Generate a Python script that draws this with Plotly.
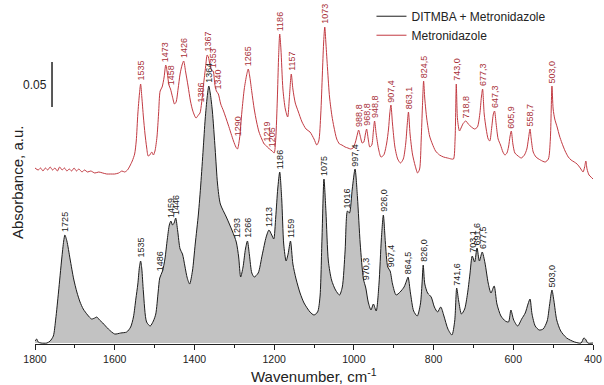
import numpy as np
import plotly.graph_objects as go

# ---------------- data ----------------
# wavenumber (cm-1) and absorbance in units of 1/900 a.u. (45 units = 0.05 a.u.)
black_wn = [1800,1796,1792,1785,1770,1762,1754,1748,1741,1733,
            1728,1725,1720,1712,1703,1695,1687,1679,1668,1658,
            1650,1645,1638,1630,1616,1600,1585,1570,1560,1553,
            1547,1542,1538,1535,1532,1528,1520,1511,1503,1497,
            1491,1487,1480,1474,1468,1463,1459,1455,1451,1447,
            1442,1436,1430,1424,1418,1412,1405,1398,1390,1384,
            1378,1373,1368,1364,1360,1355,1348,1342,1335,1320,
            1305,1295,1289,1284,1278,1272,1267,1262,1256,1250,
            1240,1230,1220,1213,1206,1201,1196,1191,1186,1181,
            1176,1170,1165,1159,1153,1145,1135,1125,1110,1100,
            1091,1085,1080,1075,1070,1064,1056,1046,1036,1029,
            1022,1016,1011,1004,997,991,984,976,970,964,
            957,951,944,937,931,926,921,915,909,903,
            894,884,874,868,864,858,850,841,833,829,
            826,822,815,806,798,790,782,774,764,754,
            747,742,737,730,722,715,709,703,697,691,
            685,678,671,663,656,648,641,631,620,612,
            606,599,589,579,570,563,558,553,545,535,
            525,515,509,503,498,491,481,466,446,430,
            423,419,413,400]
black_abs = [2,4,1,0,0,2,7,24,51,84,
             102,108,102,84,64,51,41,34,28,24,
             25,26,23,20,14,9,10,11,16,26,
             44,59,76,82,74,51,21,17,22,29,
             51,65,72,84,104,118,122,118,120,125,
             112,94,89,77,65,59,72,99,129,159,
             194,224,246,257,249,232,194,159,139,126,
             112,101,86,66,76,94,102,88,70,66,
             70,88,106,113,108,104,126,154,171,144,
             99,82,89,102,79,64,50,40,31,28,
             31,46,104,164,131,82,63,53,48,56,
             92,132,130,154,174,146,99,64,55,41,
             33,39,32,59,104,128,101,76,72,59,
             48,51,56,62,66,50,32,27,39,59,
             78,59,50,46,36,31,36,27,14,8,
             22,55,42,29,34,49,68,87,81,95,
             82,91,80,60,50,57,39,27,22,21,
             33,23,17,24,30,39,44,29,17,13,
             14,22,38,53,42,23,12,5,1,0,
             5,4,0,0]

red_wn = [1800,1792,1786,1780,1774,1768,1762,1756,1750,1744,
          1738,1732,1726,1720,1714,1708,1702,1696,1690,1682,
          1676,1668,1660,1650,1640,1630,1620,1610,1600,1590,
          1582,1575,1568,1562,1556,1550,1546,1542,1538,1535,
          1532,1528,1524,1520,1516,1512,1507,1503,1499,1494,
          1490,1486,1481,1476,1472,1468,1464,1460,1455,1450,
          1446,1441,1436,1431,1427,1422,1416,1410,1404,1396,
          1390,1386,1382,1377,1372,1368,1365,1361,1356,1353,
          1349,1345,1340,1334,1327,1315,1302,1296,1292,1287,
          1281,1275,1269,1265,1261,1256,1250,1244,1238,1231,
          1225,1219,1212,1205,1200,1196,1192,1189,1186,1183,
          1178,1172,1166,1162,1157,1153,1147,1140,1130,1120,
          1110,1100,1093,1088,1083,1079,1076,1073,1070,1066,
          1061,1055,1050,1043,1036,1030,1022,1015,1008,1002,
          996,991,988,984,979,975,971,968,964,960,
          955,951,948,944,938,932,925,918,913,910,
          907,903,897,890,883,876,870,866,863,859,
          853,846,840,835,831,828,825,822,817,810,
          803,795,785,775,765,755,750,746,743,740,
          735,730,725,719,713,705,697,690,684,680,
          677,673,668,663,659,654,650,647,643,638,
          632,626,621,616,612,608,605,601,596,588,
          580,572,566,562,558,555,550,543,532,520,
          512,507,503,500,496,490,484,478,470,462,
          455,447,440,432,425,421,418,415,410,405,400]
red_abs = [1,-1,1,-2,1,-1,2,-1,1,-2,
           2,-1,1,-2,0,-2,1,-2,0,-3,
           -1,-3,-2,-4,-3,-4,-5,-5,-5,-4,
           -2,-3,-1,3,8,15,28,55,75,85,
           72,52,35,22,13,14,17,14,18,32,
           55,78,82,92,104,96,84,80,72,65,
           67,80,95,104,108,97,83,68,58,51,
           54,56,66,85,102,114,112,104,98,98,
           85,78,75,65,58,44,28,22,20,30,
           57,80,94,100,92,77,60,47,37,30,
           25,23,20,18,16,30,70,110,135,120,
           80,60,52,70,95,80,66,58,47,40,
           37,30,24,28,55,95,125,142,125,100,
           72,53,42,30,25,24,22,21,20,21,
           27,35,39,33,26,27,35,40,30,22,
           24,38,48,35,20,12,14,25,40,55,
           64,45,22,10,6,10,25,45,57,35,
           15,3,-4,0,30,62,88,70,50,33,
           25,18,14,12,11,10,10,30,85,50,
           38,42,46,48,45,42,40,42,55,72,
           80,55,40,30,28,42,55,58,45,30,
           24,17,14,16,22,33,38,25,16,13,
           11,14,20,30,40,30,17,12,9,7,
           10,30,83,60,50,42,33,26,18,12,
           9,7,5,1,-3,2,8,0,-6,-8,-10]

black_peak_wn = [1725,1535,1486,1459,1446,1364,1293,1266,1213,1186,1159,1075,
                 1016,997.4,970.3,926.0,907.4,864.5,826.0,741.6,703.1,691.6,677.5,503.0]
black_peak_txt = ["1725","1535","1486","1459","1446","1364","1293","1266","1213","1186","1159","1075",
                  "1016","997,4","970,3","926,0","907,4","864,5","826,0","741,6","703,1","691,6","677,5","503,0"]
red_peak_wn = [1535,1473,1458,1426,1386,1367,1353,1340,1290,1265,1219,1205,1186,1157,1073,
               988.8,968.8,948.8,907.4,863.1,824.5,743.0,718.8,677.3,647.3,605.9,558.7,503.0]
red_peak_txt = ["1535","1473","1458","1426","1386","1367","1353","1340","1290","1265","1219","1205","1186","1157","1073",
                "988,8","968,8","948,8","907,4","863,1","824,5","743,0","718,8","677,3","647,3","605,9","558,7","503,0"]

x_major_ticks = [1800, 1600, 1400, 1200, 1000, 800, 600, 400]
x_minor_ticks = [1700, 1500, 1300, 1100, 900, 700, 500]
series_names = ["DITMBA + Metronidazole", "Metronidazole"]

# ---------------- conversion ----------------
UNIT = 0.05 / 45.0     # absorbance per stored unit
RED_OFFSET = 174       # vertical offset of the upper (Metronidazole) spectrum, stored units
assert len(black_wn) == len(black_abs) and len(red_wn) == len(red_abs)

bx = np.array(black_wn, float)
by = np.array(black_abs, float) * UNIT
rx = np.array(red_wn, float)
ry = (np.array(red_abs, float) + RED_OFFSET) * UNIT


def local_max(x, y, w, half=3.0):
    o = np.argsort(x)
    pts = np.linspace(w - half, w + half, 25)
    return float(np.interp(pts, x[o], y[o]).max())


FONT = "Arial, Liberation Sans, sans-serif"
BLACK = "#1c1c1c"
RED_LINE = "#c23a42"
RED_TXT = "#a83038"
TXT = "#222222"
SM = 0.7
PLOT_H = 344  # plot-area height in px (axis line 41 px above the bottom)

fig = go.Figure()
fig.add_trace(go.Scatter(x=bx, y=by, mode="lines", fill="tozeroy", fillcolor="#c2c2c2",
                         line=dict(width=0, shape="spline", smoothing=SM),
                         showlegend=False, hoverinfo="skip"))
fig.add_trace(go.Scatter(x=bx, y=by, mode="lines", name=series_names[0],
                         line=dict(color=BLACK, width=1, shape="spline", smoothing=SM)))
fig.add_trace(go.Scatter(x=rx, y=ry, mode="lines", name=series_names[1],
                         line=dict(color=RED_LINE, width=1, shape="spline", smoothing=SM)))

ann = []
for w, t in zip(black_peak_wn, black_peak_txt):
    ann.append(dict(x=w, y=local_max(bx, by, w), xref="x", yref="y", text=t, showarrow=False,
                    textangle=-90, xanchor="center", yanchor="bottom", yshift=1,
                    font=dict(family=FONT, size=9, color=TXT)))
for w, t in zip(red_peak_wn, red_peak_txt):
    ann.append(dict(x=w, y=local_max(rx, ry, w), xref="x", yref="y", text=t, showarrow=False,
                    textangle=-90, xanchor="center", yanchor="bottom", yshift=1,
                    font=dict(family=FONT, size=9, color=RED_TXT)))

# scale bar (0.05 a.u.)
bar_x = 0.0305
bar_y0 = 236 * UNIT
ann.append(dict(x=bar_x, y=bar_y0 + 0.025, xref="paper", yref="y", text="0.05", showarrow=False,
                xanchor="right", yanchor="middle", xshift=-3,
                font=dict(family=FONT, size=12, color=TXT)))
# axis titles
ann.append(dict(x=-18 / 558, y=(PLOT_H - 183) / PLOT_H, xref="paper", yref="paper",
                text="Absorbance, a.u.", showarrow=False, textangle=-90,
                xanchor="center", yanchor="middle",
                font=dict(family=FONT, size=15, color=TXT)))
ann.append(dict(x=0.5, y=-(364 - PLOT_H) / PLOT_H, xref="paper", yref="paper",
                text="Wavenumber, cm<sup>-1</sup>", showarrow=False,
                xanchor="center", yanchor="top",
                font=dict(family=FONT, size=15, color=TXT)))

fig.update_layout(
    width=604, height=385, autosize=False,
    margin=dict(l=35, r=11, t=0, b=385 - PLOT_H),
    paper_bgcolor="white", plot_bgcolor="white",
    font=dict(family=FONT, color=TXT),
    annotations=ann,
    shapes=[dict(type="line", xref="paper", yref="y", x0=bar_x, x1=bar_x,
                 y0=bar_y0, y1=bar_y0 + 0.05, line=dict(color=TXT, width=1.5))],
    legend=dict(x=0.603, y=0.995, xanchor="left", yanchor="top", bgcolor="rgba(0,0,0,0)",
                font=dict(family=FONT, size=12, color=TXT), itemwidth=30,
                tracegroupgap=0),
    xaxis=dict(range=[1800, 400], tickmode="array", tickvals=x_major_ticks,
               ticks="outside", ticklen=5, tickwidth=1, tickcolor=TXT,
               showline=True, linecolor=TXT, linewidth=1, showgrid=False, zeroline=False,
               tickfont=dict(family=FONT, size=10.5, color=TXT),
               minor=dict(tickvals=x_minor_ticks, ticks="outside", ticklen=3,
                          tickcolor=TXT, showgrid=False)),
    yaxis=dict(range=[-1 * UNIT, (PLOT_H - 1) * UNIT], visible=False),
)

fig.write_html("out.html")
